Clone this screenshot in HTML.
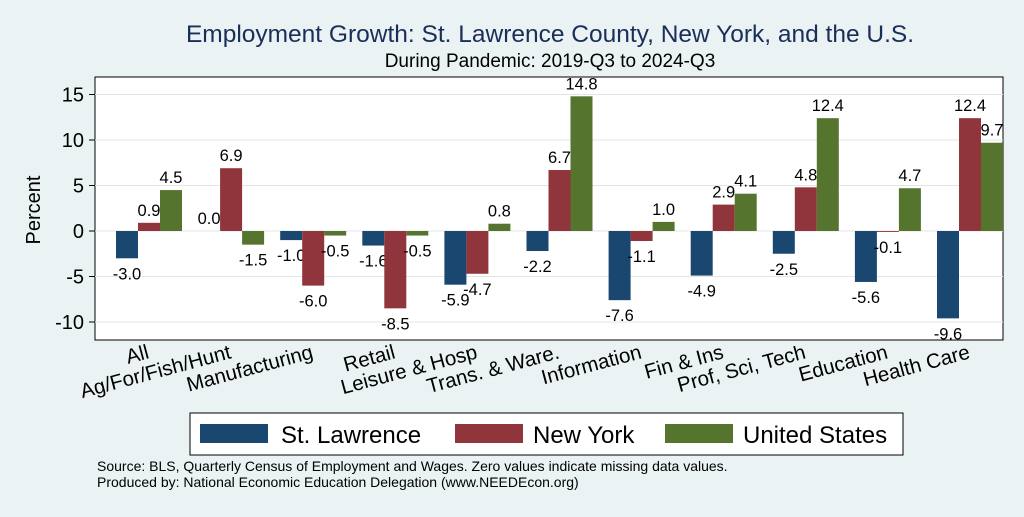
<!DOCTYPE html>
<html><head><meta charset="utf-8"><style>
body{margin:0;background:#eaf2f3;font-family:"Liberation Sans",sans-serif}
svg text{font-family:"Liberation Sans",sans-serif}
</style></head><body>
<svg width="1024" height="512">
<rect width="1024" height="512" fill="#eaf2f3"/>
<text x="550" y="42" font-size="24.5" fill="#1a2e5a" text-anchor="middle">Employment Growth: St. Lawrence County, New York, and the U.S.</text>
<text x="550" y="67" font-size="19" fill="#000" text-anchor="middle">During Pandemic: 2019-Q3 to 2024-Q3</text>
<rect x="95" y="77" width="908" height="263" fill="#fff" stroke="#000" stroke-width="1"/>
<g id="grid"></g><g id="bars"></g><g id="axes"></g>
<text transform="translate(40,210) rotate(-90)" font-size="20" text-anchor="middle">Percent</text>
<g>
<rect x="190" y="413" width="713" height="42" fill="#fff" stroke="#000"/>
<rect x="200" y="424" width="68" height="19" fill="#1a476f"/>
<text x="281" y="443" font-size="24">St. Lawrence</text>
<rect x="455" y="424" width="68" height="19" fill="#90353b"/>
<text x="533" y="443" font-size="24">New York</text>
<rect x="665" y="424" width="68" height="19" fill="#55752f"/>
<text x="743" y="443" font-size="24">United States</text>
</g>
<text x="97" y="471" font-size="14">Source: BLS, Quarterly Census of Employment and Wages. Zero values indicate missing data values.</text>
<text x="97" y="487" font-size="14">Produced by: National Economic Education Delegation (www.NEEDEcon.org)</text>
</svg>
<script>
const categories=["All","Ag/For/Fish/Hunt","Manufacturing","Retail","Leisure & Hosp","Trans. & Ware.","Information","Fin & Ins","Prof, Sci, Tech","Education","Health Care"];
const stLawrence=[-3.0,0.0,-1.0,-1.6,-5.9,-2.2,-7.6,-4.9,-2.5,-5.6,-9.6];
const newYork=[0.9,6.9,-6.0,-8.5,-4.7,6.7,-1.1,2.9,4.8,-0.1,12.4];
const unitedStates=[4.5,-1.5,-0.5,-0.5,0.8,14.8,1.0,4.1,12.4,4.7,9.7];
const yTicks=[-10,-5,0,5,10,15];
const NS="http://www.w3.org/2000/svg";
const y=v=>231-v*9.1;
const xc=i=>149+i*82.1;
const bw=22;
function mk(t,a,p){const e=document.createElementNS(NS,t);for(const k in a)e.setAttribute(k,a[k]);p.appendChild(e);return e;}
const grid=document.getElementById('grid'),bars=document.getElementById('bars'),axes=document.getElementById('axes');
yTicks.forEach(t=>{
 const l=mk('line',{x1:95,x2:1003,y1:y(t),y2:y(t),stroke:'#e4e4e4','stroke-width':1},grid);
 
 
 const k=mk('line',{x1:89,x2:95,y1:y(t),y2:y(t),stroke:'#000'},axes);
 
 
 const tx=mk('text',{x:84,y:y(t)+7,'font-size':20,'text-anchor':'end'},axes);
 tx.textContent=t;
 
 
});
const series=[[stLawrence,'#1a476f','st-lawrence',-1],[newYork,'#90353b','new-york',0],[unitedStates,'#55752f','united-states',1]];
categories.forEach((c,i)=>{
 series.forEach(([vals,col,nm,off])=>{
  const v=vals[i],cx=xc(i)+off*bw;
  const top=Math.min(y(v),y(0)),h=Math.abs(y(v)-y(0));
  const r=mk('rect',{x:cx-bw/2,y:top,width:bw,height:h,fill:col},bars);
  
  
  const ly=v>=0?y(v)-7:y(v)+21;
  const t=mk('text',{x:cx,y:ly,'font-size':16.5,'text-anchor':'middle'},bars);
  t.textContent=v.toFixed(1);
  
  
 });
 const t=mk('text',{transform:`translate(${xc(i)+1},358) rotate(-15)`,'font-size':20.5,'text-anchor':'end'},axes);
 t.textContent=c;
 
 
});
</script>
</body></html>
